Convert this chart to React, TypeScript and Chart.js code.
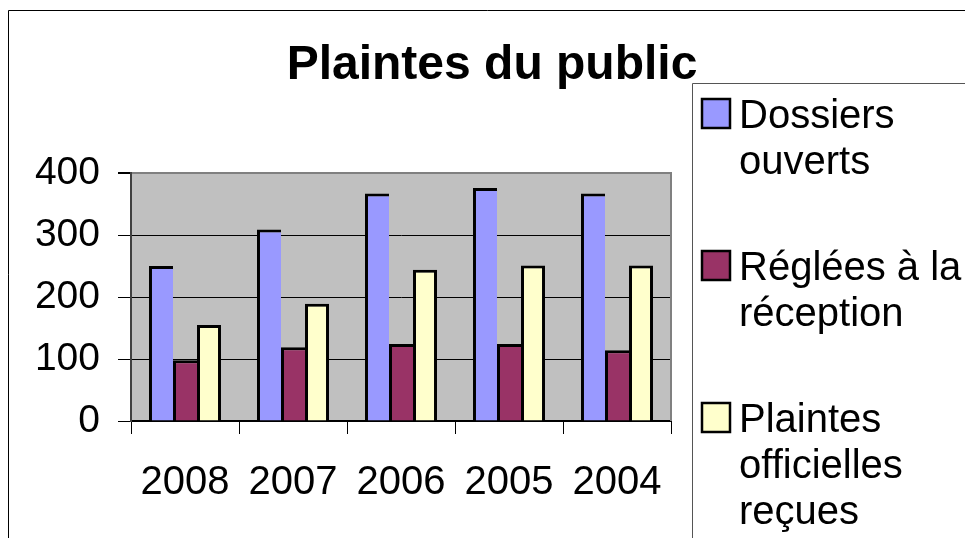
import React, { useEffect, useRef } from "react";
import { Chart, registerables } from "chart.js";

Chart.register(...registerables);

const categories = ["2008", "2007", "2006", "2005", "2004"];
const dossiersOuverts = [250, 309, 367, 376, 367];
const regleesReception = [98, 119, 124, 124, 114];
const plaintesOfficielles = [155, 189, 244, 251, 251];
const seriesLabels = ["Dossiers ouverts", "Réglées à la réception", "Plaintes officielles reçues"];
const legendLines = [["Dossiers", "ouverts"], ["Réglées à la", "réception"], ["Plaintes", "officielles", "reçues"]];
const yTicks = [0, 100, 200, 300, 400];
const titleText = "Plaintes du public";

const FONT = "'Liberation Sans', Arial, sans-serif";

const decorPlugin = {
  id: "decor",
  beforeDraw(chart: any) {
    const { ctx, chartArea } = chart;
    ctx.save();
    ctx.fillStyle = "#ffffff";
    ctx.fillRect(0, 0, chart.width, chart.height);
    ctx.fillStyle = "#C0C0C0";
    ctx.fillRect(chartArea.left, chartArea.top, chartArea.right - chartArea.left, chartArea.bottom - chartArea.top);
    // outer border
    ctx.strokeStyle = "#000";
    ctx.lineWidth = 1;
    ctx.beginPath();
    ctx.moveTo(8.5, chart.height + 2);
    ctx.lineTo(8.5, 10.5);
    ctx.lineTo(chart.width + 2, 10.5);
    ctx.stroke();
    // title
    ctx.fillStyle = "#000";
    ctx.font = `bold 48px ${FONT}`;
    ctx.textAlign = "center";
    ctx.textBaseline = "alphabetic";
    ctx.fillText(titleText, 492, 79);
    ctx.restore();
  },
  afterDraw(chart: any) {
    const { ctx, chartArea } = chart;
    ctx.save();
    // right border of plot
    ctx.strokeStyle = "#808080";
    ctx.lineWidth = 2;
    ctx.beginPath();
    ctx.moveTo(chartArea.right, chartArea.top - 1);
    ctx.lineTo(chartArea.right, chartArea.bottom);
    ctx.stroke();
    // legend box
    ctx.strokeStyle = "#555";
    ctx.lineWidth = 1;
    ctx.beginPath();
    ctx.moveTo(692.5, chart.height + 2);
    ctx.lineTo(692.5, 83.5);
    ctx.lineTo(chart.width + 2, 83.5);
    ctx.stroke();
    // legend entries
    ctx.font = `40px ${FONT}`;
    ctx.textAlign = "left";
    ctx.textBaseline = "alphabetic";
    chart.data.datasets.forEach((ds: any, i: number) => {
      const base = 128 + i * 152;
      ctx.fillStyle = ds.backgroundColor;
      ctx.fillRect(702, base - 29, 28, 29);
      ctx.strokeStyle = "#000";
      ctx.lineWidth = 2.5;
      ctx.strokeRect(702, base - 29, 28, 29);
      ctx.fillStyle = "#000";
      legendLines[i].forEach((line, j) => {
        ctx.fillText(line, 739, base + j * 46);
      });
    });
    ctx.restore();
  },
};

export default function App() {
  const ref = useRef<HTMLCanvasElement>(null);
  useEffect(() => {
    if (!ref.current) return;
    const mk = (label: string, data: number[], color: string, last: boolean) => ({
      label,
      data,
      backgroundColor: color,
      borderColor: "#000",
      borderWidth: { top: 3, left: 3, right: last ? 3 : 0, bottom: 0 },
      borderSkipped: false,
      categoryPercentage: 0.667,
      barPercentage: 1,
    });
    const chart = new Chart(ref.current, {
      type: "bar",
      data: {
        labels: categories,
        datasets: [
          mk(seriesLabels[0], dossiersOuverts, "#9999FF", false),
          mk(seriesLabels[1], regleesReception, "#993366", false),
          mk(seriesLabels[2], plaintesOfficielles, "#FFFFCC", true),
        ],
      },
      options: {
        responsive: false,
        animation: false,
        layout: { padding: { top: 173, right: 294, left: 0, bottom: 0 } },
        plugins: {
          legend: { display: false },
          title: { display: false },
          tooltip: { enabled: false },
        },
        scales: {
          x: {
            afterFit: (s: any) => {
              s.height = 117;
            },
            grid: {
              drawOnChartArea: false,
              drawTicks: true,
              tickLength: 13,
              tickColor: "#000",
              offset: true,
            },
            border: { color: "#000", width: 2 },
            ticks: {
              color: "#000",
              font: { family: FONT, size: 40 },
              padding: 25,
              maxRotation: 0,
            },
          },
          y: {
            min: yTicks[0],
            max: yTicks[yTicks.length - 1],
            afterFit: (s: any) => {
              s.width = 131;
            },
            afterBuildTicks: (s: any) => {
              s.ticks = yTicks.map((v) => ({ value: v }));
            },
            grid: {
              color: (c: any) => (c.tick && c.tick.value === 400 ? "#808080" : "#000"),
              lineWidth: (c: any) => (c.tick && c.tick.value === 400 ? 2 : 1),
              tickColor: "#000",
              tickLength: 13,
            },
            border: { color: "#404040", width: 2 },
            ticks: {
              color: "#000",
              font: { family: FONT, size: 39 },
              padding: 18,
            },
          },
        },
      },
      plugins: [decorPlugin],
    } as any);
    return () => chart.destroy();
  }, []);
  return (
    <div style={{ position: "absolute", left: 0, top: 0, width: 965, height: 538 }}>
      <canvas ref={ref} width={965} height={538} style={{ display: "block" }} />
    </div>
  );
}
